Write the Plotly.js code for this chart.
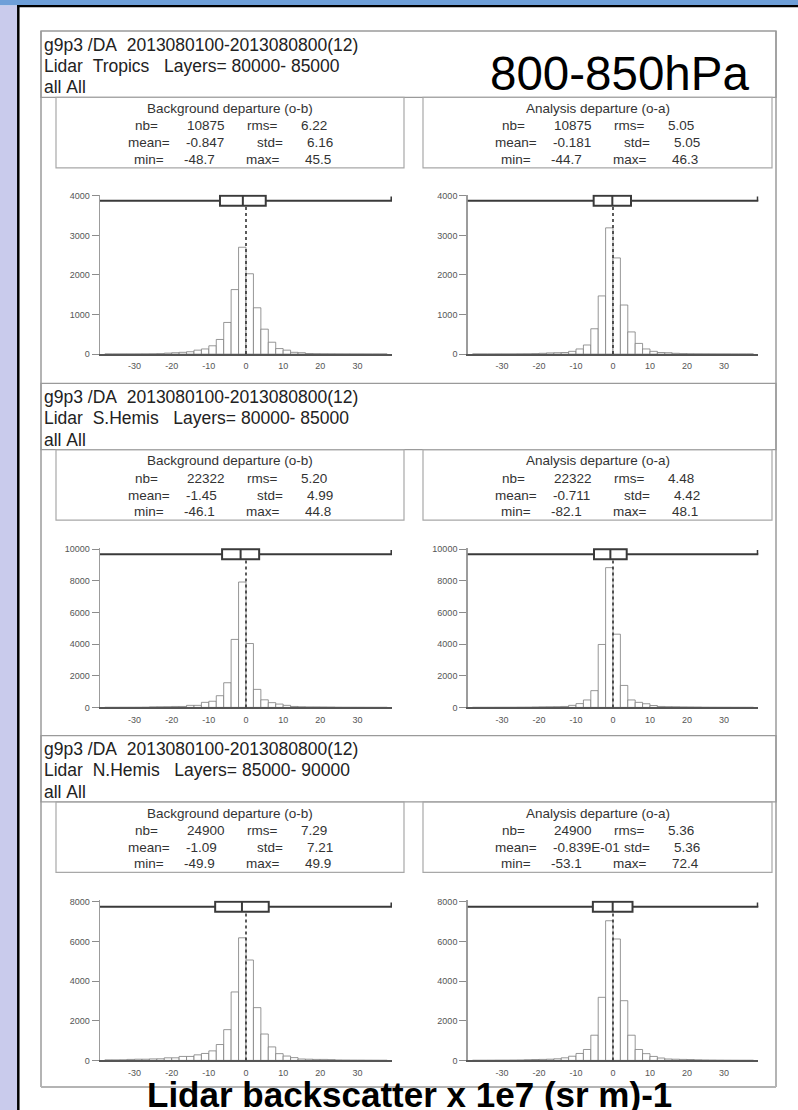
<!DOCTYPE html>
<html><head><meta charset="utf-8">
<script src="https://cdn.plot.ly/plotly-3.0.1.min.js"></script>
<style>html,body{margin:0;padding:0;background:#fff;overflow:hidden}#chart{width:798px;height:1110px}</style>
</head><body><div id="chart"></div>
<script>
// ---------------- DATA ----------------
const binEdges = [-38,-36,-34,-32,-30,-28,-26,-24,-22,-20,-18,-16,-14,-12,-10,-8,-6,-4,-2,0,2,4,6,8,10,12,14,16,18,20,22,24,26,28,30,32,34,36];
const binWidth = 2;
const tropicsOB = [2,2,3,3,4,5,8,12,25,35,45,60,100,130,210,370,800,1630,2700,2030,1170,630,300,140,100,45,35,15,10,8,6,5,4,3,3,2,2,2];
const tropicsOA = [2,2,2,3,3,4,6,8,12,20,30,35,40,70,130,230,640,1470,3190,2430,1240,560,270,130,70,40,35,20,12,8,6,5,4,3,3,2,2,2];
const sHemisOB  = [3,4,5,6,8,12,35,40,45,60,60,130,130,320,390,740,1560,4300,7930,4040,1140,480,300,210,130,60,40,30,30,25,20,10,8,6,5,4,3,3];
const sHemisOA  = [2,3,4,5,6,8,12,15,25,35,40,45,60,130,240,470,1060,3980,8840,4630,1390,470,320,230,120,60,45,40,30,25,20,10,8,6,5,4,3,2];
const nHemisOB  = [25,25,30,50,60,60,75,80,130,130,200,200,280,350,480,800,1550,3450,6180,5060,2660,1330,680,340,220,140,70,60,50,50,40,20,15,12,10,8,6,5];
const nHemisOA  = [5,6,8,10,12,15,20,35,45,50,60,80,130,210,350,550,1270,3180,7040,6120,3010,1270,550,340,200,120,70,60,50,45,30,20,15,10,8,6,5,5];

const headerLine1 = "g9p3 /DA  2013080100-2013080800(12)";
const regions = ["Tropics", "S.Hemis", "N.Hemis"];
const layers = ["80000- 85000", "80000- 85000", "85000- 90000"];
const headerLine3 = "all All";
const levelLabel = "800-850hPa";
const bottomTitle = "Lidar backscatter x 1e7 (sr m)-1";

const statTitles = ["Background departure (o-b)", "Analysis departure (o-a)"];
const nbText   = ["10875","10875","22322","22322","24900","24900"];
const rmsText  = ["6.22","5.05","5.20","4.48","7.29","5.36"];
const meanText = ["-0.847","-0.181","-1.45","-0.711","-1.09","-0.839E-01"];
const stdText  = ["6.16","5.05","4.99","4.42","7.21","5.36"];
const minText  = ["-48.7","-44.7","-46.1","-82.1","-49.9","-53.1"];
const maxText  = ["45.5","46.3","44.8","48.1","49.9","72.4"];
const meanVals = meanText.map(Number);
const stdVals  = stdText.map(Number);
const minVals  = minText.map(Number);
const maxVals  = maxText.map(Number);

const xTickVals = [-30,-20,-10,0,10,20,30];
const xTickText = ["-30","-20","-10","0","10","20","30"];
const yTopVals = [4000, 10000, 8000];
const yTickVals = [[0,1000,2000,3000,4000],[0,2000,4000,6000,8000,10000],[0,2000,4000,6000,8000]];
const yTickText = [["0","1000","2000","3000","4000"],["0","2000","4000","6000","8000","10000"],["0","2000","4000","6000","8000"]];
const hists = [tropicsOB, tropicsOA, sHemisOB, sHemisOA, nHemisOB, nHemisOA];

// ---------------- LAYOUT GEOMETRY (pixels) ----------------
const W = 798, H = 1110;
const px = x => x / W, py = y => 1 - y / H;
const rowTop = [31, 383.3, 735.6];
const plotTop = [195.8, 549.3, 901.7];
const plotZero = [354.1, 707.4, 1060.4];
const plotX = [[100, 392], [467.7, 758.3]];
const statX = [[56, 404], [423, 772]];
const frameL = 41, frameR = 776, frameB = 1087;
const headerH = 66.3, statB = 136.8;
const XR = 39.3, EXT = 1.008;
const FONT = 'Liberation Sans, Arial, Helvetica, sans-serif';

const traces = [];
const layout = {
  width: W, height: H, margin: {l:0, r:0, t:0, b:0},
  paper_bgcolor: '#ffffff', plot_bgcolor: 'rgba(0,0,0,0)',
  showlegend: false, bargap: 0,
  font: {family: FONT, color: '#333'},
  shapes: [], annotations: []
};
const S = layout.shapes, A = layout.annotations;

// decorative page background
S.push({type:'rect', xref:'paper', yref:'paper', x0:0, x1:1, y0:py(0), y1:py(5.5), fillcolor:'#6e9fd8', line:{width:0}, layer:'below'});
S.push({type:'rect', xref:'paper', yref:'paper', x0:0, x1:px(17.5), y0:0, y1:py(5.5), fillcolor:'#c9cbec', line:{width:0}, layer:'below'});
S.push({type:'line', xref:'paper', yref:'paper', x0:px(18.3), x1:px(18.3), y0:0, y1:py(5), line:{color:'#000', width:2.5}});
S.push({type:'line', xref:'paper', yref:'paper', x0:px(17), x1:1, y0:py(6.2), y1:py(6.2), line:{color:'#000', width:2.2}});

// outer frame
S.push({type:'line', xref:'paper', yref:'paper', x0:px(frameL), x1:px(frameL), y0:py(rowTop[0]), y1:py(frameB), line:{color:'#b4b4b4', width:2}});
S.push({type:'line', xref:'paper', yref:'paper', x0:px(frameR), x1:px(frameR), y0:py(rowTop[0]), y1:py(frameB), line:{color:'#b4b4b4', width:2}});
S.push({type:'line', xref:'paper', yref:'paper', x0:px(frameL), x1:px(frameR), y0:py(frameB), y1:py(frameB), line:{color:'#b4b4b4', width:2}});

const nb = s => s.replace(/ /g, '\u00a0');
function txt(text, x, y, size, xanchor, opts) {
  A.push(Object.assign({xref:'paper', yref:'paper', x:px(x), y:py(y), text:text, showarrow:false,
    xanchor:xanchor, yanchor:'middle', font:{family:FONT, size:size, color:'#333'}}, opts || {}));
}

for (let r = 0; r < 3; r++) {
  const t = rowTop[r];
  S.push({type:'rect', xref:'paper', yref:'paper', x0:px(frameL), x1:px(frameR), y0:py(t), y1:py(t+headerH), line:{color:'#9a9a9a', width:1.3}});
  txt(nb(headerLine1), 42, t + 13.8, 17.5, 'left', {font:{family:FONT, size:17.5, color:'#222'}});
  txt(nb("Lidar  " + regions[r] + "   Layers= " + layers[r]), 42, t + 34.8, 17.5, 'left', {font:{family:FONT, size:17.5, color:'#222'}});
  txt(nb(headerLine3), 42, t + 56.4, 17.5, 'left', {font:{family:FONT, size:17.5, color:'#222'}});
  for (let c = 0; c < 2; c++) {
    const p = r * 2 + c;
    const bx = statX[c][0];
    S.push({type:'rect', xref:'paper', yref:'paper', x0:px(statX[c][0]), x1:px(statX[c][1]), y0:py(t+headerH), y1:py(t+statB), line:{color:'#a8a8a8', width:1.2}});
    txt(statTitles[c], (statX[c][0] + statX[c][1]) / 2, t + 77.6, 13.5, 'center');
    const rows = [
      {y:95,    l1:'nb=',   c1:90, v1:nbText[p],   o1:130, l2:'rms=', c2:206, v2:rmsText[p],  o2:244},
      {y:111.8, l1:'mean=', c1:93, v1:meanText[p], o1:129, l2:'std=', c2:214, v2:stdText[p],  o2:250},
      {y:128.3, l1:'min=',  c1:93, v1:minText[p],  o1:127, l2:'max=', c2:207, v2:maxText[p],  o2:248}
    ];
    rows.forEach(o => {
      txt(o.l1, bx + o.c1, t + o.y, 13.5, 'center');
      txt(o.v1, bx + o.o1 - 1, t + o.y, 13.5, 'left');
      txt(o.l2, bx + o.c2, t + o.y, 13.5, 'center');
      txt(o.v2, bx + o.o2 - 1, t + o.y, 13.5, 'left');
    });

    // histogram subplot
    const n = p + 1, sfx = n === 1 ? '' : String(n);
    const hp = plotZero[r] - plotTop[r];
    const yTop = yTopVals[r];
    traces.push({type:'bar', x: binEdges.map(e => e + binWidth / 2), y: hists[p],
      width: binEdges.map(() => binWidth), xaxis: 'x' + sfx, yaxis: 'y' + sfx,
      marker: {color:'#ffffff', line:{color:'#7c7c7c', width:0.8}}, hoverinfo:'skip'});
    layout['xaxis' + sfx] = {domain:[px(plotX[c][0]), px(plotX[c][1])], range:[-XR, XR], anchor:'y' + sfx,
      tickmode:'array', tickvals:xTickVals, ticktext:xTickText, tickfont:{size:9, color:'#555', family:FONT},
      showline:true, linecolor:'#555', linewidth:1.5, ticks:'outside', ticklen:3, tickcolor:'rgba(0,0,0,0)',
      showgrid:false, zeroline:false, fixedrange:true};
    layout['yaxis' + sfx] = {domain:[py(plotZero[r]), py(plotZero[r] - hp * EXT)], range:[0, yTop * EXT], anchor:'x' + sfx,
      tickmode:'array', tickvals:yTickVals[r], ticktext:yTickText[r], tickfont:{size:9, color:'#555', family:FONT},
      showline:true, linecolor:'#9c9c9c', linewidth:1.5, ticks:'outside', ticklen:7, tickcolor:'#8c8c8c', tickwidth:1,
      showgrid:false, zeroline:false, fixedrange:true};

    // box: mean +/- std, whiskers min/max, mean line
    const xr = 'x' + sfx, yr = 'y' + sfx;
    const m = meanVals[p], sd = stdVals[p];
    const yb0 = yTop * 0.937, yb1 = yTop * 1.0, yw = yTop * 0.968;
    S.push({type:'line', xref:xr, yref:yr, x0:0, x1:0, y0:0, y1:yTop * 0.965, line:{color:'#333', width:1.6, dash:'dot'}, layer:'above'});
    S.push({type:'line', xref:xr, yref:yr, x0:minVals[p], x1:m - sd, y0:yw, y1:yw, line:{color:'#3a3a3a', width:2}});
    S.push({type:'line', xref:xr, yref:yr, x0:m + sd, x1:maxVals[p], y0:yw, y1:yw, line:{color:'#3a3a3a', width:2}});
    S.push({type:'line', xref:xr, yref:yr, x0:XR - 0.15, x1:XR - 0.15, y0:yw, y1:yTop * 0.995, line:{color:'#3a3a3a', width:2}});
    S.push({type:'rect', xref:xr, yref:yr, x0:m - sd, x1:m + sd, y0:yb0, y1:yb1, fillcolor:'#ffffff', line:{color:'#3a3a3a', width:2}});
    S.push({type:'line', xref:xr, yref:yr, x0:m, x1:m, y0:yb0, y1:yb1, line:{color:'#3a3a3a', width:2}});
  }
}

// big labels
A.push({xref:'paper', yref:'paper', x:px(751), y:py(73.5), text:levelLabel, showarrow:false, xanchor:'right', yanchor:'middle',
  font:{family:FONT, size:47.5, color:'#000'}});
A.push({xref:'paper', yref:'paper', x:px(409.5), y:py(1094), text:'<b>' + bottomTitle + '</b>', showarrow:false, xanchor:'center', yanchor:'middle',
  font:{family:FONT, size:35, color:'#000'}});

Plotly.newPlot('chart', traces, layout, {displayModeBar:false, staticPlot:true});
</script>
</body></html>
